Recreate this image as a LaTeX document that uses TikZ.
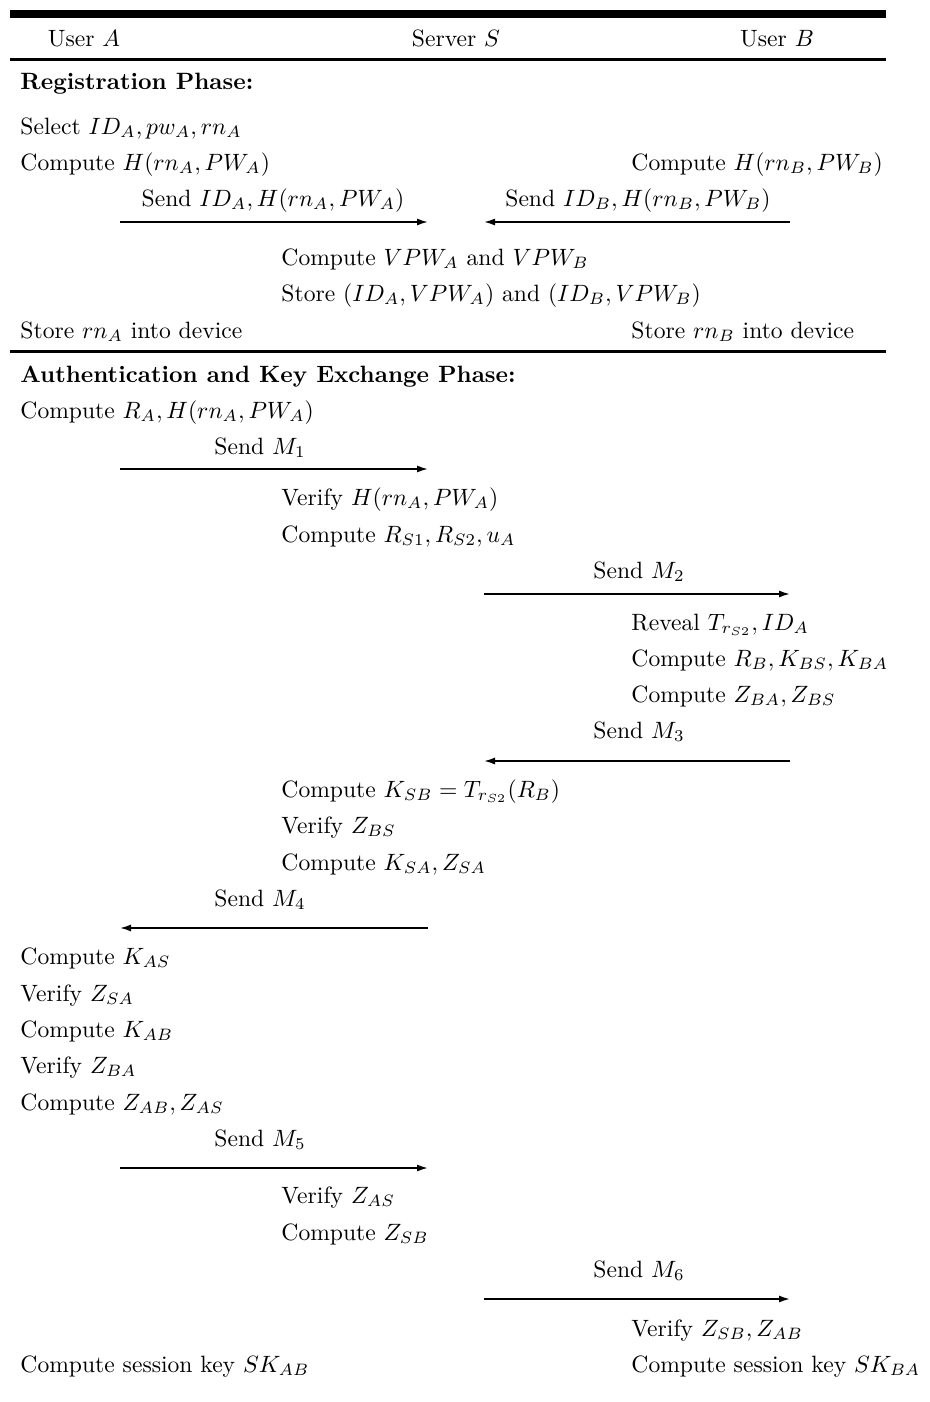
\documentclass[tikz,border=0pt]{standalone}
\usepackage{amsmath,amssymb}
\usetikzlibrary{arrows.meta}

\begin{document}
\begin{tikzpicture}[x=0.5pt,y=-0.5pt,
    txt/.style={anchor=base west, inner sep=0pt, scale=1.18},
    lbl/.style={anchor=base, inner sep=0pt, scale=1.18},
    arrow/.style={-{Latex[length=5.5pt,width=3.5pt]}, line width=0.8pt}
]
\useasboundingbox (0,0) rectangle (930,1402);

% header
\draw[line width=4pt] (10,14) -- (886,14);
\node[lbl] (ua) at (84,47) {User $A$};
\node[lbl] (srv) at (456,47) {Server $S$};
\node[lbl] (ub) at (777,47) {User $B$};
\draw[line width=1.5pt] (10,60) -- (886,60);

% registration
\node[txt] (reg) at (20,90) {\textbf{Registration Phase:}};
\node[txt] (r1) at (20,134) {Select $ID_A, pw_A, rn_A$};
\node[txt] (r2) at (20,170) {Compute $H(rn_A, PW_A)$};
\node[txt] (r3) at (631,170) {Compute $H(rn_B, PW_B)$};
\node[lbl] (sa) at (273,206) {Send $ID_A, H(rn_A, PW_A)$};
\node[lbl] (sb) at (638,206) {Send $ID_B, H(rn_B, PW_B)$};
\coordinate (saL) at (120,222);
\coordinate (saR) at (428,222);
\coordinate (sbL) at (484,222);
\coordinate (sbR) at (790,222);
\draw[arrow] (saL) -- (saR);
\draw[arrow] (sbR) -- (sbL);
\node[txt] (r4) at (281,265) {Compute $VPW_A$ and $VPW_B$};
\node[txt] (r5) at (281,301) {Store $(ID_A, VPW_A)$ and $(ID_B, VPW_B)$};
\node[txt] (r6) at (20,338) {Store $rn_A$ into device};
\node[txt] (r7) at (631,338) {Store $rn_B$ into device};
\draw[line width=1.5pt] (10,351) -- (886,351);

% authentication
\node[txt] (auth) at (20,382) {\textbf{Authentication and Key Exchange Phase:}};
\node[txt] (a1) at (20,418) {Compute $R_A, H(rn_A, PW_A)$};
\node[lbl] (m1) at (260,454) {Send $M_1$};
\coordinate (m1L) at (120,469);
\coordinate (m1R) at (428,469);
\draw[arrow] (m1L) -- (m1R);
\node[txt] (s1) at (281,505) {Verify $H(rn_A, PW_A)$};
\node[txt] (s2) at (281,542) {Compute $R_{S1}, R_{S2}, u_A$};
\node[lbl] (m2) at (639,578) {Send $M_2$};
\coordinate (m2L) at (484,594);
\coordinate (m2R) at (790,594);
\draw[arrow] (m2L) -- (m2R);
\node[txt] (b1) at (631,630) {Reveal $T_{r_{S2}}, ID_A$};
\node[txt] (b2) at (631,666) {Compute $R_B, K_{BS}, K_{BA}$};
\node[txt] (b3) at (631,702) {Compute $Z_{BA}, Z_{BS}$};
\node[lbl] (m3) at (639,738) {Send $M_3$};
\coordinate (m3L) at (484,761);
\coordinate (m3R) at (790,761);
\draw[arrow] (m3R) -- (m3L);
\node[txt] (s3) at (281,797) {Compute $K_{SB} = T_{r_{S2}}(R_B)$};
\node[txt] (s4) at (281,833) {Verify $Z_{BS}$};
\node[txt] (s5) at (281,870) {Compute $K_{SA}, Z_{SA}$};
\node[lbl] (m4) at (260,906) {Send $M_4$};
\coordinate (m4L) at (120,928);
\coordinate (m4R) at (428,928);
\draw[arrow] (m4R) -- (m4L);
\node[txt] (a2) at (20,964) {Compute $K_{AS}$};
\node[txt] (a3) at (20,1001) {Verify $Z_{SA}$};
\node[txt] (a4) at (20,1037) {Compute $K_{AB}$};
\node[txt] (a5) at (20,1073) {Verify $Z_{BA}$};
\node[txt] (a6) at (20,1110) {Compute $Z_{AB}, Z_{AS}$};
\node[lbl] (m5) at (260,1146) {Send $M_5$};
\coordinate (m5L) at (120,1168);
\coordinate (m5R) at (428,1168);
\draw[arrow] (m5L) -- (m5R);
\node[txt] (s6) at (281,1203) {Verify $Z_{AS}$};
\node[txt] (s7) at (281,1240) {Compute $Z_{SB}$};
\node[lbl] (m6) at (639,1277) {Send $M_6$};
\coordinate (m6L) at (484,1299);
\coordinate (m6R) at (790,1299);
\draw[arrow] (m6L) -- (m6R);
\node[txt] (b4) at (631,1336) {Verify $Z_{SB}, Z_{AB}$};
\node[txt] (a7) at (20,1372) {Compute session key $SK_{AB}$};
\node[txt] (b5) at (631,1372) {Compute session key $SK_{BA}$};
\end{tikzpicture}
\end{document}
